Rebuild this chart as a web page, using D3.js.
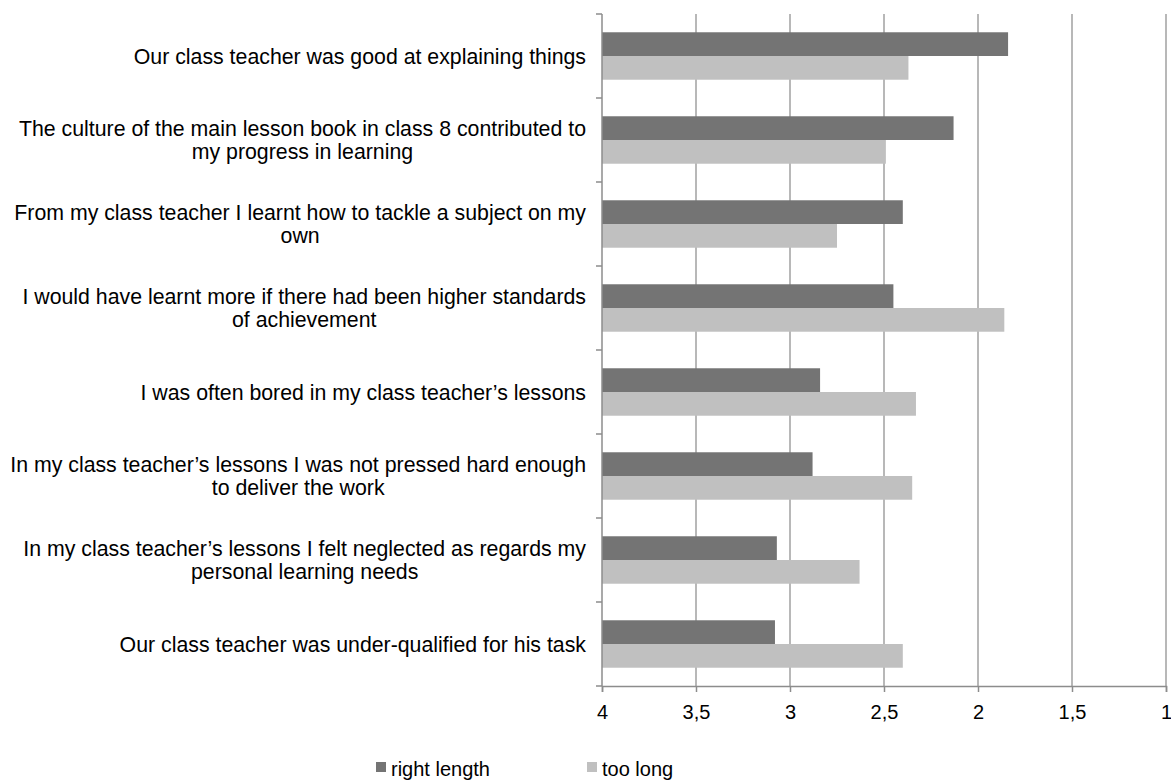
<!DOCTYPE html>
<html>
<head>
<meta charset="utf-8">
<script src="https://cdn.jsdelivr.net/npm/d3@7"></script>
<style>
  body { margin: 0; background: #fff; }
  svg text { font-family: "Liberation Sans", Arial, sans-serif; fill: #000; }
</style>
</head>
<body>
<div class="chart"></div>
<script>
const width = 1171;
const height = 781;

// data
const categories = [
  ["Our class teacher was good at explaining things"],
  ["The culture of the main lesson book in class 8 contributed to", "my progress in learning"],
  ["From my class teacher I learnt how to tackle a subject on my", "own"],
  ["I would have learnt more if there had been higher standards", "of achievement"],
  ["I was often bored in my class teacher\u2019s lessons"],
  ["In my class teacher\u2019s lessons I was not pressed hard enough", "to deliver the work"],
  ["In my class teacher\u2019s lessons I felt neglected as regards my", "personal learning needs"],
  ["Our class teacher was under-qualified for his task"]
];
const seriesNames = ["right length", "too long"];
const rightLength = [1.84, 2.13, 2.40, 2.45, 2.84, 2.88, 3.07, 3.08];
const tooLong = [2.37, 2.49, 2.75, 1.86, 2.33, 2.35, 2.63, 2.40];
const tickValues = [4, 3.5, 3, 2.5, 2, 1.5, 1];
const colors = ["#747474", "#c0c0c0"];

const plotLeft = 602, plotRight = 1166, plotTop = 14, plotBottom = 686;

const svg = d3.select(".chart").append("svg")
  .attr("width", width)
  .attr("height", height);

const x = d3.scaleLinear().domain([4, 1]).range([plotLeft, plotRight]);
const y0 = d3.scaleBand().domain(d3.range(categories.length)).range([plotTop, plotBottom]);
const y1 = d3.scaleBand().domain(seriesNames).range([0, y0.bandwidth()]).paddingOuter(0.77);

const fmt = d3.formatLocale({decimal: ",", thousands: ".", grouping: [3], currency: ["", ""]}).format("~g");

// gridlines
svg.append("g")
  .selectAll("line")
  .data(tickValues.slice(1))
  .join("line")
  .attr("x1", d => x(d)).attr("x2", d => x(d))
  .attr("y1", plotTop).attr("y2", plotBottom)
  .attr("stroke", "#a0a0a0")
  .attr("stroke-width", 1.5);

// bars
const rows = categories.map((c, i) => ({i, vals: [rightLength[i], tooLong[i]]}));
const groups = svg.append("g").selectAll("g")
  .data(rows)
  .join("g")
  .attr("transform", d => `translate(0,${y0(d.i)})`);

groups.selectAll("rect")
  .data(d => d.vals.map((v, k) => ({v, k})))
  .join("rect")
  .attr("x", x(4))
  .attr("y", d => y1(seriesNames[d.k]))
  .attr("width", d => x(d.v) - x(4))
  .attr("height", y1.bandwidth())
  .attr("fill", d => colors[d.k]);

// x axis
const xAxis = d3.axisBottom(x).tickValues(tickValues).tickFormat(fmt).tickSize(6).tickPadding(13);
const gx = svg.append("g").attr("transform", `translate(0,${plotBottom})`).call(xAxis);
gx.select(".domain").attr("stroke", "#8c8c8c").attr("stroke-width", 1.5);
gx.selectAll(".tick line").attr("stroke", "#8c8c8c").attr("stroke-width", 1.5);
gx.selectAll(".tick text").style("font-size", "20px").attr("fill", "#000");

// y axis line and ticks
const yTicks = d3.range(categories.length + 1).map(i => plotTop + i * y0.step());
svg.append("line")
  .attr("x1", plotLeft).attr("x2", plotLeft).attr("y1", plotTop).attr("y2", plotBottom)
  .attr("stroke", "#8c8c8c").attr("stroke-width", 1.5);
svg.append("g").selectAll("line")
  .data(yTicks)
  .join("line")
  .attr("x1", plotLeft - 6).attr("x2", plotLeft)
  .attr("y1", d => d).attr("y2", d => d)
  .attr("stroke", "#8c8c8c").attr("stroke-width", 1.5);

// category labels (block right-aligned, lines centred)
const labelRight = 586;
const lineH = 22.5;
categories.forEach((lines, i) => {
  const cy = y0(i) + y0.bandwidth() / 2;
  const g = svg.append("g");
  const texts = lines.map((l, j) => g.append("text")
    .style("font-size", "21.3px")
    .attr("y", cy + (j - (lines.length - 1) / 2) * lineH + 7.5)
    .text(l));
  const w = d3.max(texts, t => t.node().getComputedTextLength());
  texts.forEach(t => t.attr("x", labelRight - w / 2).attr("text-anchor", "middle"));
});

// legend
const legendX = [376, 587];
const legend = svg.append("g").selectAll("g")
  .data(seriesNames)
  .join("g")
  .attr("transform", (d, i) => `translate(${legendX[i]},762)`);
legend.append("rect").attr("width", 10).attr("height", 10).attr("fill", (d, i) => colors[i]);
legend.append("text").attr("x", 15).attr("y", 14).style("font-size", "20px").text(d => d);
</script>
</body>
</html>
